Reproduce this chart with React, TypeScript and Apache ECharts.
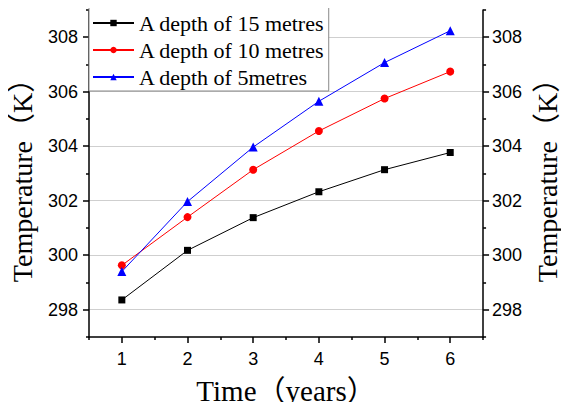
import React, { useEffect, useRef } from 'react';
import * as echarts from 'echarts';

const years = [1, 2, 3, 4, 5, 6];
const depth15 = [298.36, 300.18, 301.38, 302.33, 303.14, 303.77];
const depth10 = [299.63, 301.40, 303.14, 304.56, 305.75, 306.74];
const depth5 = [299.40, 301.97, 303.97, 305.65, 307.07, 308.24];
const seriesNames = ['A depth of 15 metres', 'A depth of 10 metres', 'A depth of 5metres'];
const xMajorTicks = [1, 2, 3, 4, 5, 6];
const xMinorTicks = [0.5, 1.5, 2.5, 3.5, 4.5, 5.5, 6.5];
const yMajorTicks = [298, 300, 302, 304, 306, 308];
const yMinorTicks = [297, 299, 301, 303, 305, 307, 309];

const SERIF = '"Liberation Serif", "Times New Roman", "Noto Sans CJK SC", serif';
const SANS = '"Liberation Sans", Arial, sans-serif';

export default function App() {
  const ref = useRef<HTMLDivElement>(null);
  useEffect(() => {
    if (!ref.current) return;
    const chart = echarts.init(ref.current, null, { renderer: 'svg' });
    const axisLine = { show: true, lineStyle: { color: '#000', width: 1.5 } };
    const tickLabel = { color: '#000', fontFamily: SANS, fontSize: 18 };
    const mkSeries = (name: string, vals: number[], color: string, symbol: string, size: number) => ({
      name,
      type: 'line',
      data: years.map((x, i) => [x, vals[i]]),
      symbol,
      symbolSize: size,
      lineStyle: { color, width: 1 },
      itemStyle: { color },
      xAxisIndex: 0,
      yAxisIndex: 0,
    });
    chart.setOption({
      animation: false,
      backgroundColor: '#fff',
      grid: { left: 83, right: 76, top: 10, bottom: 70 },
      legend: {
        orient: 'vertical',
        left: 89,
        top: 7,
        padding: [5, 4, 3, 3],
        itemGap: 5,
        itemWidth: 41,
        itemHeight: 8,
        backgroundColor: '#fff',
        borderColor: '#888',
        borderWidth: 1,
        textStyle: { color: '#000', fontFamily: SERIF, fontSize: 22 },
        data: seriesNames,
      },
      xAxis: [
        {
          type: 'value',
          min: 0.5,
          max: 6.5,
          position: 'bottom',
          axisLine,
          axisTick: { show: true, inside: false, length: 6, customValues: xMajorTicks, lineStyle: { color: '#000', width: 1.5 } },
          axisLabel: { ...tickLabel, margin: 13, customValues: xMajorTicks },
          splitLine: { show: false },
          name: 'Time（years）',
          nameLocation: 'middle',
          nameGap: 39,
          nameTextStyle: { color: '#000', fontFamily: SERIF, fontSize: 29 },
        },
        {
          type: 'value',
          min: 0.5,
          max: 6.5,
          position: 'bottom',
          axisLine: { show: false },
          axisTick: { show: true, inside: false, length: 3, customValues: xMinorTicks, lineStyle: { color: '#000', width: 1.5 } },
          axisLabel: { show: false },
          splitLine: { show: false },
        },
      ],
      yAxis: [
        {
          type: 'value',
          min: 297,
          max: 309,
          position: 'left',
          axisLine,
          axisTick: { show: true, inside: false, length: 6, customValues: yMajorTicks, lineStyle: { color: '#000', width: 1.5 } },
          axisLabel: { ...tickLabel, margin: 11, customValues: yMajorTicks },
          splitLine: { show: true, lineStyle: { color: '#cfcfcf', width: 1 } },
          name: 'Temperature（K）',
          nameLocation: 'middle',
          nameRotate: 90,
          nameGap: 53,
          nameTextStyle: { color: '#000', fontFamily: SERIF, fontSize: 28 },
        },
        {
          type: 'value',
          min: 297,
          max: 309,
          position: 'left',
          axisLine: { show: false },
          axisTick: { show: true, inside: false, length: 3, customValues: yMinorTicks, lineStyle: { color: '#000', width: 1.5 } },
          axisLabel: { show: false },
          splitLine: { show: false },
        },
        {
          type: 'value',
          min: 297,
          max: 309,
          position: 'right',
          axisLine,
          axisTick: { show: true, inside: false, length: 6, customValues: yMajorTicks, lineStyle: { color: '#000', width: 1.5 } },
          axisLabel: { ...tickLabel, margin: 9, customValues: yMajorTicks },
          splitLine: { show: false },
          name: 'Temperature（K）',
          nameLocation: 'middle',
          nameRotate: 90,
          nameGap: 48,
          nameTextStyle: { color: '#000', fontFamily: SERIF, fontSize: 28 },
        },
        {
          type: 'value',
          min: 297,
          max: 309,
          position: 'right',
          axisLine: { show: false },
          axisTick: { show: true, inside: false, length: 3, customValues: yMinorTicks, lineStyle: { color: '#000', width: 1.5 } },
          axisLabel: { show: false },
          splitLine: { show: false },
        },
      ],
      series: [
        mkSeries(seriesNames[0], depth15, '#000000', 'rect', 7),
        mkSeries(seriesNames[1], depth10, '#ff0000', 'circle', 8),
        mkSeries(seriesNames[2], depth5, '#0000ff', 'triangle', 9),
      ],
    });
    return () => chart.dispose();
  }, []);
  return <div ref={ref} style={{ width: 569, height: 410, margin: -8 }} />;
}
